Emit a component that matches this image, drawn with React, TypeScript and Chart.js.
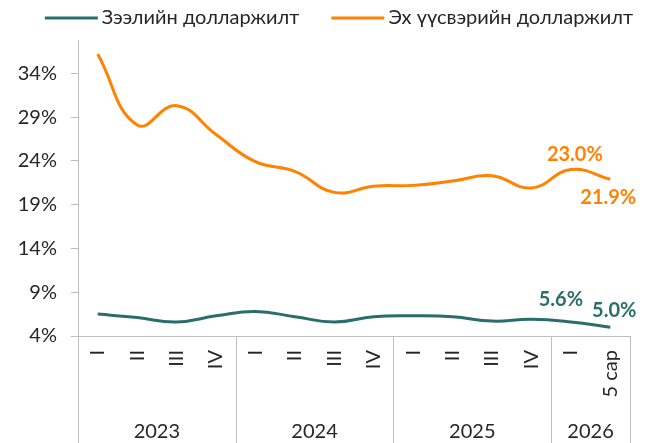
import React, { useEffect, useRef } from 'react';
import { Chart, registerables } from 'chart.js';
Chart.register(...registerables);

const categories = ['I', 'II', 'III', 'IV', 'I', 'II', 'III', 'IV', 'I', 'II', 'III', 'IV', 'I', '5 сар'];
const years = ['2023', '2024', '2025', '2026'];
const yearSpans = [4, 4, 4, 2];
const loanDollarization = [6.5, 6.1, 5.6, 6.3, 6.8, 6.2, 5.6, 6.2, 6.3, 6.2, 5.7, 5.9, 5.6, 5.0];
const depositDollarization = [36.2, 28.1, 30.3, 27.0, 23.9, 22.8, 20.4, 21.1, 21.2, 21.7, 22.3, 20.9, 23.0, 21.9];
const seriesNames = ['Зээлийн долларжилт', 'Эх үүсвэрийн долларжилт'];
const yTicks = [4, 9, 14, 19, 24, 29, 34];
const yMin = 4;
const yMax = 37.8;

const FONT = 'Lato, "Noto Sans", sans-serif';
const TEAL = '#2a6e6c';
const ORANGE = '#ff8200';
const GRID = '#bfbfbf';
const TEXT = '#262626';

// label placement: [dataset, index, dx, dy]
const labelPlacement: [number, number, number, number][] = [
  [1, 12, 4, -15],
  [1, 13, -2, 18],
  [0, 12, -10, -22],
  [0, 13, 4, -17],
];

const legendPlugin = {
  id: 'customLegend',
  afterDraw(chart: any) {
    const ctx = chart.ctx;
    ctx.save();
    ctx.font = `20px ${FONT}`;
    ctx.textBaseline = 'middle';
    ctx.fillStyle = TEXT;
    const lineLen = 53;
    const gap = 4;
    const itemGap = 32;
    const ds = chart.data.datasets;
    const widths = ds.map((d: any) => ctx.measureText(d.label).width);
    const total = ds.reduce((s: number, _d: any, i: number) => s + lineLen + gap + widths[i], 0) + itemGap * (ds.length - 1);
    let x = 339 - total / 2;
    const y = 18;
    ds.forEach((d: any, i: number) => {
      ctx.strokeStyle = d.borderColor;
      ctx.lineWidth = 3;
      ctx.beginPath();
      ctx.moveTo(x, y);
      ctx.lineTo(x + lineLen, y);
      ctx.stroke();
      ctx.fillStyle = TEXT;
      ctx.textAlign = 'left';
      ctx.fillText(d.label, x + lineLen + gap, y);
      x += lineLen + gap + widths[i] + itemGap;
    });
    ctx.restore();
  },
};

const groupPlugin = {
  id: 'yearGroups',
  afterDraw(chart: any) {
    const ctx = chart.ctx;
    const x = chart.scales.x;
    const area = chart.chartArea;
    const step = x.getPixelForValue(1) - x.getPixelForValue(0);
    ctx.save();
    ctx.strokeStyle = GRID;
    ctx.lineWidth = 1;
    ctx.font = `20px ${FONT}`;
    ctx.fillStyle = TEXT;
    ctx.textAlign = 'center';
    ctx.textBaseline = 'middle';
    let start = 0;
    const bounds: number[] = [x.getPixelForValue(0) - step / 2];
    years.forEach((yr, i) => {
      const end = start + yearSpans[i] - 1;
      const l = x.getPixelForValue(start) - step / 2;
      const r = x.getPixelForValue(end) + step / 2;
      bounds.push(r);
      ctx.fillText(yr, (l + r) / 2, chart.height - 11);
      start = end + 1;
    });
    bounds.forEach((b) => {
      const bx = Math.round(b) + 0.5;
      ctx.beginPath();
      ctx.moveTo(bx, area.bottom);
      ctx.lineTo(bx, chart.height);
      ctx.stroke();
    });
    ctx.restore();
  },
};

const valueLabelPlugin = {
  id: 'valueLabels',
  afterDatasetsDraw(chart: any) {
    const ctx = chart.ctx;
    ctx.save();
    ctx.font = `bold 20px ${FONT}`;
    ctx.textAlign = 'center';
    ctx.textBaseline = 'middle';
    labelPlacement.forEach(([di, idx, dx, dy]) => {
      const ds = chart.data.datasets[di];
      const pt = chart.getDatasetMeta(di).data[idx];
      ctx.fillStyle = ds.borderColor;
      ctx.fillText(ds.data[idx].toFixed(1) + '%', pt.x + dx, pt.y + dy);
    });
    ctx.restore();
  },
};

export default function App() {
  const ref = useRef<HTMLCanvasElement>(null);
  useEffect(() => {
    document.body.style.margin = '0';
    const chart = new Chart(ref.current!, {
      type: 'line',
      data: {
        labels: categories,
        datasets: [
          {
            label: seriesNames[0],
            data: loanDollarization,
            borderColor: TEAL,
            backgroundColor: TEAL,
            borderWidth: 3,
            pointRadius: 0,
            tension: 0.45,
          },
          {
            label: seriesNames[1],
            data: depositDollarization,
            borderColor: ORANGE,
            backgroundColor: ORANGE,
            borderWidth: 3,
            pointRadius: 0,
            tension: 0.45,
          },
        ],
      },
      options: {
        animation: false,
        responsive: false,
        maintainAspectRatio: false,
        layout: { padding: { top: 40, right: 24, left: 0, bottom: 0 } },
        plugins: {
          legend: { display: false },
          tooltip: { enabled: false },
        },
        scales: {
          x: {
            offset: true,
            grid: { display: false },
            border: { display: true, color: GRID, width: 1 },
            ticks: {
              minRotation: 90,
              maxRotation: 90,
              autoSkip: false,
              padding: 6,
              color: TEXT,
              font: { family: FONT, size: 20 },
            },
            afterFit: (s: any) => {
              s.height = 107;
            },
          },
          y: {
            min: yMin,
            max: yMax,
            afterBuildTicks: (s: any) => {
              s.ticks = yTicks.map((v) => ({ value: v }));
            },
            grid: { display: true, drawOnChartArea: false, drawTicks: true, tickLength: 7, color: GRID },
            border: { display: true, color: GRID, width: 1 },
            ticks: {
              padding: 14,
              color: TEXT,
              font: { family: FONT, size: 20 },
              callback: (v: any) => `${v}%`,
            },
            afterFit: (s: any) => {
              s.width = 78;
            },
          },
        },
      },
      plugins: [legendPlugin, groupPlugin, valueLabelPlugin],
    });
    return () => chart.destroy();
  }, []);
  return <canvas ref={ref} width={654} height={443} style={{ display: 'block' }} />;
}
